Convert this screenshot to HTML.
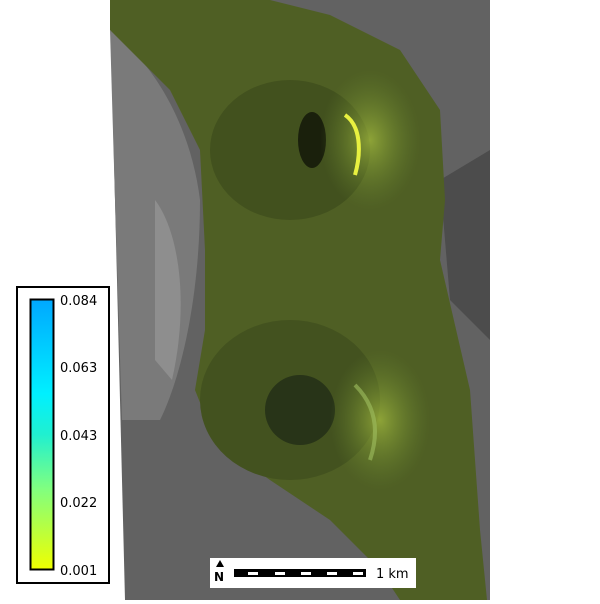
<!DOCTYPE html>
<html><head><meta charset="utf-8"><style>
body{margin:0;background:#fff;font-family:"DejaVu Sans","Liberation Sans",sans-serif}
</style></head><body>
<svg width="600" height="600" viewBox="0 0 600 600">
<defs>
<linearGradient id="cb" x1="0" y1="1" x2="0" y2="0">
<stop offset="0" stop-color="#f0ff00"/><stop offset="0.3" stop-color="#80ff80"/>
<stop offset="0.5" stop-color="#20f0d0"/><stop offset="0.65" stop-color="#00f0ff"/>
<stop offset="1" stop-color="#00a8ff"/></linearGradient>
<radialGradient id="hl" cx="0.5" cy="0.5" r="0.5"><stop offset="0" stop-color="#a8c040" stop-opacity="0.7"/><stop offset="1" stop-color="#6a8a30" stop-opacity="0"/></radialGradient>
</defs>
<polygon points="110,0 490,0 490,600 125,600" fill="#626262"/>
<path d="M110,30 C150,60 190,120 200,200 C200,300 180,380 160,420 L122,420 L115,200 Z" fill="#7a7a7a"/>
<path d="M155,200 C178,230 190,300 172,380 L155,360 Z" fill="#8e8e8e"/>
<path d="M440,180 L490,150 L490,340 L450,300 Z" fill="#4c4c4c"/>
<path d="M110,0 L270,0 L330,15 L400,50 L440,110 L445,200 L440,260 L470,390 L475,460 L480,530 L487,600 L400,600 L380,570 L330,520 L270,480 L215,440 L195,390 L205,330 L205,250 L200,150 L170,90 L110,30 Z" fill="#4f5f24"/>
<ellipse cx="290" cy="150" rx="80" ry="70" fill="#42511e"/>
<ellipse cx="290" cy="400" rx="90" ry="80" fill="#43521f"/>
<ellipse cx="300" cy="410" rx="35" ry="35" fill="#283418"/>
<ellipse cx="312" cy="140" rx="14" ry="28" fill="#1a200c"/>
<ellipse cx="370" cy="140" rx="50" ry="70" fill="url(#hl)"/>
<ellipse cx="380" cy="420" rx="50" ry="70" fill="url(#hl)"/>
<path d="M345,115 C360,125 362,150 355,175" stroke="#e8f040" stroke-width="4" fill="none"/>
<path d="M355,385 C375,405 380,430 370,460" stroke="#a0c060" stroke-width="4" fill="none" opacity="0.6"/>
<g>
<rect x="17" y="287" width="92" height="296" fill="#fff" stroke="#000" stroke-width="2"/>
<rect x="30.5" y="299.5" width="23" height="270" fill="url(#cb)" stroke="#000" stroke-width="2"/>
<g font-size="13" fill="#000">
<text x="60" y="305">0.084</text><text x="60" y="372">0.063</text><text x="60" y="440">0.043</text><text x="60" y="507">0.022</text><text x="60" y="575">0.001</text>
</g></g>
<g>
<rect x="210" y="558" width="206" height="30" fill="#fff"/>
<text x="214" y="581" font-size="12" font-weight="bold">N</text>
<path d="M220,560 L216,567 L224,567 Z" fill="#000"/>
<rect x="234" y="569" width="132" height="8" fill="#000"/>
<g fill="#fff"><rect x="248" y="572" width="10" height="3"/><rect x="275" y="572" width="10" height="3"/><rect x="301" y="572" width="10" height="3"/><rect x="327" y="572" width="10" height="3"/><rect x="353" y="572" width="10" height="3"/></g>
<text x="376" y="578" font-size="13">1 km</text>
</g>
</svg>
</body></html>
